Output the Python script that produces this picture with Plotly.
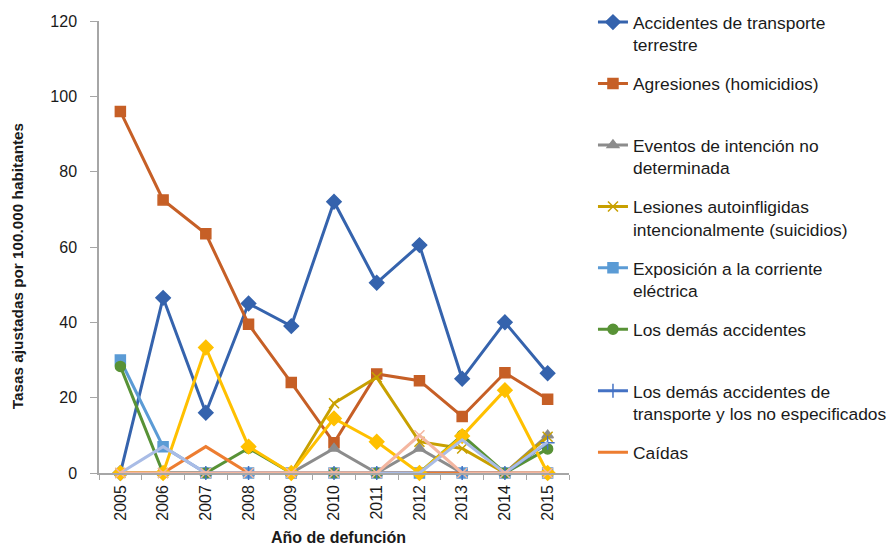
import plotly.graph_objects as go

years = ['2005', '2006', '2007', '2008', '2009', '2010', '2011', '2012', '2013', '2014', '2015']

transporte_terrestre = [0, 46.5, 16, 45, 39, 72, 50.5, 60.5, 25, 40, 26.5]
agresiones = [96, 72.5, 63.5, 39.5, 24, 8, 26.3, 24.5, 15, 26.6, 19.6]
intencion_no_det = [0, 0, 0, 0, 0, 6.5, 0, 6.5, 0, 0, 10]
suicidios = [0, 0, 0, 0, 0, 18.5, 25.4, 8.3, 6.5, 0, 9.6]
corriente_electrica = [30, 7, 0, 0, 0, 0, 0, 0, 0, 0, 0]
demas_accidentes = [28.3, 0, 0, 6.6, 0, 0, 0, 0, 10, 0, 6.4]
demas_transporte = [0, 0, 0, 0, 0, 0, 0, 0, 0, 0, 8]
caidas = [0, 0, 7, 0, 0, 0, 0, 0, 0, 0, 0]
# series drawn in the chart but cut from the legend
extra_amarillo = [0, 0, 33.3, 7, 0, 14.5, 8.3, 0, 9.8, 22, 0]
extra_lavanda = [0, 7, 0, 0, 0, 0, 0, 0, 8.8, 0, 8.2]
extra_rosa = [0, 0, 0, 0, 0, 0, 0, 10, 0, 0, 0]

series = [
    ('Accidentes de transporte<br>terrestre', transporte_terrestre, '#3563AD', 'diamond', 11),
    ('Agresiones (homicidios)<br> ', agresiones, '#C65F26', 'square', 10),
    ('Eventos de intención no<br>determinada', intencion_no_det, '#8C8C8C', 'triangle-up', 10),
    ('Lesiones autoinfligidas<br>intencionalmente (suicidios)', suicidios, '#C8A000', 'x-thin-open', 10),
    ('Exposición a la corriente<br>eléctrica', corriente_electrica, '#5B9BD5', 'square', 10),
    ('Los demás accidentes<br> ', demas_accidentes, '#589236', 'circle', 10),
    ('Los demás accidentes de<br>transporte y los no especificados', demas_transporte, '#4472C4', 'cross-thin-open', 10),
    ('Caídas<br> ', caidas, '#ED7D31', None, 0),
]

extras = [
    (extra_amarillo, '#FFC000', 'diamond', 11),
    (extra_lavanda, '#A9BCE6', None, 0),
    (extra_rosa, '#F4B6A0', 'x-thin-open', 10),
]

fig = go.Figure()

for i, (name, vals, color, symbol, size) in enumerate(series):
    fig.add_trace(go.Scatter(
        x=years, y=vals, name=name, legendgroup=str(i),
        mode='lines+markers' if symbol else 'lines',
        line=dict(color=color, width=3),
        marker=dict(symbol=symbol or 'circle', size=size, color=color,
                    line=dict(color=color, width=1.5)),
        cliponaxis=False,
    ))

for vals, color, symbol, size in extras:
    fig.add_trace(go.Scatter(
        x=years, y=vals, showlegend=False,
        mode='lines+markers' if symbol else 'lines',
        line=dict(color=color, width=3),
        marker=dict(symbol=symbol or 'circle', size=size, color=color,
                    line=dict(color=color, width=1.5)),
        cliponaxis=False,
    ))

# the page body adds an 8px offset, so the figure is 8px smaller than the window
fig.update_layout(
    width=886, height=538,
    margin=dict(l=91, r=325, t=13, b=73, autoexpand=False),
    paper_bgcolor='white', plot_bgcolor='white',
    font=dict(family='Liberation Sans, Arial, sans-serif', size=16, color='#1a1a1a'),
    showlegend=True,
    legend=dict(
        x=1.051, y=1.037, xanchor='left', yanchor='top',
        font=dict(size=17.4, color='#1a1a1a'),
        valign='top', tracegroupgap=13.2, maxheight=1,
        bgcolor='rgba(0,0,0,0)',
    ),
    xaxis=dict(
        type='category', range=[-0.5, 10.5],
        tickangle=-90, tickson='boundaries',
        ticks='outside', ticklen=5, tickcolor='#A6A6A6',
        showline=True, linecolor='#A6A6A6', linewidth=1.5,
        showgrid=False, zeroline=False, ticklabelstandoff=4,
        tickfont=dict(size=16),
    ),
    yaxis=dict(
        range=[0, 120], dtick=20,
        ticks='outside', ticklen=7, tickcolor='#A6A6A6',
        showline=True, linecolor='#A6A6A6', linewidth=1.5,
        showgrid=False, zeroline=False, ticklabelstandoff=10,
        tickfont=dict(size=16),
    ),
    annotations=[
        dict(text='<b>Tasas ajustadas por 100.000 habitantes</b>', textangle=-90,
             xref='paper', yref='paper', x=-0.172, y=0.458, showarrow=False,
             xanchor='center', yanchor='middle', font=dict(size=15.3)),
        dict(text='<b>Año de defunción</b>', xref='paper', yref='paper',
             x=0.51, y=-0.1416, showarrow=False, xanchor='center', yanchor='middle',
             font=dict(size=16)),
    ],
)

fig.write_html("out.html")
